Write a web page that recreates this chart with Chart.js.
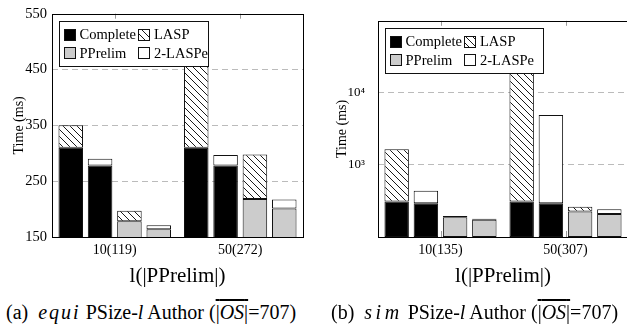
<!DOCTYPE html>
<html><head><meta charset="utf-8">
<script src="https://cdn.jsdelivr.net/npm/chart.js@4.4.0/dist/chart.umd.min.js"></script>
<style>
html,body{margin:0;padding:0;background:#fff;overflow:hidden;width:627px;height:329px;position:relative;}
#ca{position:absolute;left:0;top:0;}
#cb{position:absolute;left:310px;top:0;}
.cap{position:absolute;top:300px;font-family:"Liberation Serif",serif;font-size:20px;line-height:24px;white-space:nowrap;color:#000;}
.m{font-style:italic;}
.sp{font-style:italic;letter-spacing:2px;}
.sp3{font-style:italic;letter-spacing:3.5px;}
.ov{text-decoration:overline;}
</style></head><body>
<canvas id="ca" width="320" height="290"></canvas>
<canvas id="cb" width="330" height="290"></canvas>
<div class="cap" style="left:6px">(a)&nbsp; <span class="sp">equi</span> PSize-<span class="m">l</span> Author (<span class="ov">|<span class="m">OS</span>|</span>=707)</div>
<div class="cap" style="left:331px">(b)&nbsp;&nbsp;<span class="sp3">sim</span> PSize-<span class="m">l</span> Author (<span class="ov">|<span class="m">OS</span>|</span>=707)</div>
<script>
// ---- data ----
const seriesNames = ['Complete', 'LASP', 'PPrelim', '2-LASPe'];
const xTitle = 'l(|PPrelim|)';
const yTitle = 'Time (ms)';

// (a) equi, linear axis
const categoriesA = ['10(119)', '50(272)'];
const yTicksA = [150, 250, 350, 450, 550];
const completeA1 = [310, 310];   // bar 1 base
const laspA1 = [40, 190];        // bar 1 top (second one hidden behind legend)
const completeA2 = [278, 278];   // bar 2 base
const lasp2A2 = [12, 19];        // bar 2 top
const pprelimA3 = [178, 218];    // bar 3 base
const laspA3 = [19, 80];         // bar 3 top
const pprelimA4 = [164, 201];    // bar 4 base
const lasp2A4 = [7, 16];         // bar 4 top

// (b) sim, log axis
const categoriesB = ['10(135)', '50(307)'];
const yTicksB = [1000, 10000];
const completeB1 = [312, 312];
const laspB1 = [1340, 40000];
const completeB2 = [294, 294];
const lasp2B2 = [146, 4630];
const pprelimB3 = [188, 225];
const laspB3 = [8, 37];
const pprelimB4 = [174, 208];
const lasp2B4 = [5, 34];

// ---- styling ----
const SERIF = '"Liberation Serif", "Times New Roman", serif';
function hatchPattern() {
  const s = 7;
  const c = document.createElement('canvas'); c.width = s; c.height = s;
  const g = c.getContext('2d');
  g.fillStyle = '#fff'; g.fillRect(0, 0, s, s);
  g.strokeStyle = '#000'; g.lineWidth = 0.9;
  g.beginPath();
  g.moveTo(-1, -1); g.lineTo(s + 1, s + 1);
  g.moveTo(-s - 1, -1); g.lineTo(1, s + 1);
  g.moveTo(s - 1, -1); g.lineTo(2 * s + 1, s + 1);
  g.stroke();
  return document.createElement('canvas').getContext('2d').createPattern(c, 'repeat');
}
const HATCH = hatchPattern();
const fills = { 'Complete': '#000000', 'LASP': HATCH, 'PPrelim': '#cccccc', '2-LASPe': '#ffffff' };

function ds(label, data, stack) {
  return { label, data, stack, backgroundColor: fills[label], borderColor: '#111', borderWidth: 1,
           borderSkipped: false, categoryPercentage: 0.935, barPercentage: 0.836 };
}

const framePlugin = {
  id: 'frame',
  afterDatasetsDraw(chart, args, opts) {
    const { ctx, chartArea: a } = chart;
    const x = chart.scales.x;
    ctx.save();
    ctx.strokeStyle = '#999'; ctx.lineWidth = 1;
    for (let i = 0; i < x.ticks.length; i++) {
      const px = Math.round(x.getPixelForTick(i)) + 0.5;
      ctx.beginPath(); ctx.moveTo(px, a.top); ctx.lineTo(px, a.top + 5); ctx.stroke();
      if (opts.bottomTicks) { ctx.beginPath(); ctx.moveTo(px, a.bottom); ctx.lineTo(px, a.bottom - 6); ctx.stroke(); }
    }
    ctx.strokeStyle = '#000'; ctx.lineWidth = 1;
    ctx.strokeRect(Math.round(a.left) + 0.5, Math.round(a.top) + 0.5, Math.round(a.right - a.left), Math.round(a.bottom - a.top));
    ctx.restore();
  }
};

const legendPlugin = {
  id: 'lgd',
  afterDraw(chart, args, opts) {
    const { ctx, chartArea: a } = chart;
    const bx = Math.round(a.left + 7) + 0.5, by = Math.round(a.top + 7) + 0.5;
    ctx.save();
    ctx.font = '14.5px ' + SERIF;
    const t1x = bx + 20;
    const s2x = bx + 79;
    const t2x = s2x + 15.5;
    const bw = opts.width, bh = 45;
    ctx.fillStyle = '#fff'; ctx.strokeStyle = '#111'; ctx.lineWidth = 1;
    ctx.fillRect(bx, by, bw, bh); ctx.strokeRect(bx, by, bw, bh);
    const rows = [by + 13, by + 31.5];
    const items = [[seriesNames[0], bx + 5, t1x, rows[0]], [seriesNames[1], s2x, t2x, rows[0]],
                   [seriesNames[2], bx + 5, t1x, rows[1]], [seriesNames[3], s2x, t2x, rows[1]]];
    ctx.textBaseline = 'middle';
    for (const [name, sx, tx, cy] of items) {
      const sy = Math.round(cy - 6) + 0.5;
      ctx.fillStyle = fills[name]; ctx.fillRect(sx, sy, 11, 11);
      ctx.strokeStyle = '#111'; ctx.strokeRect(sx, sy, 11, 11);
      ctx.fillStyle = '#000';
      ctx.fillText(name, tx, cy + 1);
    }
    ctx.restore();
  }
};

function makeChart(id, cats, sets, yScale, opts) {
  return new Chart(document.getElementById(id), {
    type: 'bar',
    data: { labels: cats, datasets: sets },
    options: {
      responsive: false, animation: false, devicePixelRatio: 1,
      layout: { padding: { left: 0, right: opts.padRight, top: opts.padTop, bottom: 0 } },
      plugins: { legend: { display: false }, tooltip: { enabled: false },
                 frame: { bottomTicks: opts.bottomTicks }, lgd: { width: opts.legendWidth } },
      scales: {
        x: {
          stacked: true,
          grid: { display: false, drawTicks: false },
          border: { display: false },
          ticks: { color: '#000', font: { family: SERIF, size: 14 }, padding: 5, maxRotation: 0 },
          title: { display: true, text: xTitle, color: '#000', font: { family: SERIF, size: 21 }, padding: { top: 0, bottom: 1 } },
          afterFit: s => { s.height = 53; }
        },
        y: Object.assign({
          stacked: true,
          grid: { drawTicks: false, color: c => (c.tick && opts.gridAt.includes(c.tick.value)) ? '#bbbbbb' : 'rgba(0,0,0,0)', lineWidth: 1 },
          border: { display: false, dash: [6, 4] },
          title: { display: true, text: yTitle, color: '#000', font: { family: SERIF, size: 14 }, padding: { top: opts.yTitlePad, bottom: 0 } },
          afterFit: s => { s.width = opts.yWidth; }
        }, yScale)
      }
    },
    plugins: [framePlugin, legendPlugin]
  });
}

makeChart('ca', categoriesA, [
  ds('Complete', completeA1, 's1'), ds('LASP', laspA1, 's1'),
  ds('Complete', completeA2, 's2'), ds('2-LASPe', lasp2A2, 's2'),
  ds('PPrelim', pprelimA3, 's3'), ds('LASP', laspA3, 's3'),
  ds('PPrelim', pprelimA4, 's4'), ds('2-LASPe', lasp2A4, 's4')
], {
  type: 'linear', min: yTicksA[0], max: yTicksA[yTicksA.length - 1],
  afterBuildTicks: s => { s.ticks = yTicksA.map(v => ({ value: v })); },
  ticks: { color: '#000', font: { family: SERIF, size: 14.5 }, padding: 5 }
}, { padRight: 17, padTop: 11, yWidth: 52, yTitlePad: 10.5, gridAt: [250, 350, 450], bottomTicks: false, legendWidth: 149 });

const sup = { 1000: '10³', 10000: '10⁴' };
makeChart('cb', categoriesB, [
  ds('Complete', completeB1, 's1'), ds('LASP', laspB1, 's1'),
  ds('Complete', completeB2, 's2'), ds('2-LASPe', lasp2B2, 's2'),
  ds('PPrelim', pprelimB3, 's3'), ds('LASP', laspB3, 's3'),
  ds('PPrelim', pprelimB4, 's4'), ds('2-LASPe', lasp2B4, 's4')
], {
  type: 'logarithmic', min: 100, max: 100000,
  afterBuildTicks: s => { s.ticks = yTicksB.map(v => ({ value: v })); },
  ticks: { color: '#000', font: { family: SERIF, size: 13 }, padding: 13, callback: v => sup[v] || '' }
}, { padRight: 12, padTop: 10, yWidth: 68, yTitlePad: 24, gridAt: yTicksB, bottomTicks: true, legendWidth: 158 });
</script>
</body></html>
